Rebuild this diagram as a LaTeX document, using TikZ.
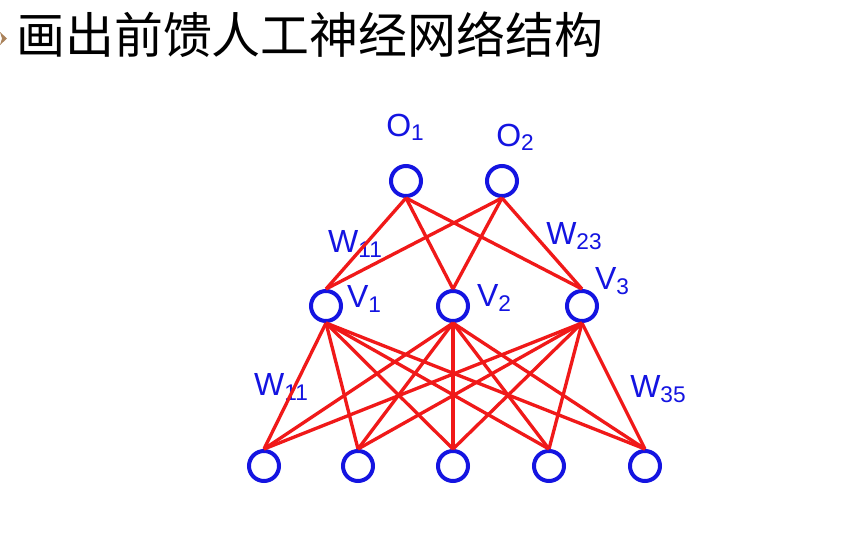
\documentclass[tikz,border=0pt]{standalone}
\usepackage{fontspec}
\setmainfont{Liberation Sans}
\newfontfamily\cjk{Noto Sans CJK SC}
\definecolor{nblue}{RGB}{20,20,225}
\definecolor{nred}{RGB}{240,25,25}
\definecolor{bul}{RGB}{170,130,90}
\newcommand{\lsub}[1]{\raisebox{-0.25ex}{\fontsize{17}{17}\selectfont #1}}
\begin{document}
\begin{tikzpicture}[x=0.75pt,y=-0.75pt,
  neuron/.style={circle,draw=nblue,line width=3pt,minimum size=22.5pt,inner sep=0pt},
  conn/.style={draw=nred,line width=2.5pt},
  lbl/.style={text=nblue,font=\fontsize{24}{24}\selectfont,inner sep=0pt}]
\useasboundingbox (0,0) rectangle (844,557);
\fill[white] (0,0) rectangle (844,557);
% bullet and title
\fill[bul] (0,32) -- (7,38.5) -- (0,45) -- (2,38.5) -- cycle;
\node[anchor=base west,inner sep=0pt,font=\cjk\fontsize{36.7}{36.7}\selectfont] (title) at (16,53) {画出前馈人工神经网络结构};
% labels
\node[lbl] (lo1) at (405,127) {O\lsub{1}};
\node[lbl] (lo2) at (515,137) {O\lsub{2}};
\node[lbl] (lw11a) at (355,244) {W\lsub{11}};
\node[lbl] (lw23) at (574,236) {W\lsub{23}};
\node[lbl] (lv1) at (364,299) {V\lsub{1}};
\node[lbl] (lv2) at (494,298) {V\lsub{2}};
\node[lbl] (lv3) at (612,281) {V\lsub{3}};
\node[lbl] (lw11b) at (281,387) {W\lsub{11}};
\node[lbl] (lw35) at (658,389) {W\lsub{35}};
% neurons
\node[neuron] (o1) at (406,181) {};
\node[neuron] (o2) at (502,181) {};
\node[neuron] (v1) at (326,306) {};
\node[neuron] (v2) at (453,306) {};
\node[neuron] (v3) at (582,306) {};
\node[neuron] (x1) at (264,466) {};
\node[neuron] (x2) at (358,466) {};
\node[neuron] (x3) at (453,466) {};
\node[neuron] (x4) at (549,466) {};
\node[neuron] (x5) at (645,466) {};
% connections
\foreach \o in {o1,o2}
  \foreach \v in {v1,v2,v3}
    \draw[conn] (\o.south) -- (\v.north);
\foreach \v in {v1,v2,v3}
  \foreach \x in {x1,x2,x3,x4,x5}
    \draw[conn] (\v.south) -- (\x.north);
\end{tikzpicture}
\end{document}
